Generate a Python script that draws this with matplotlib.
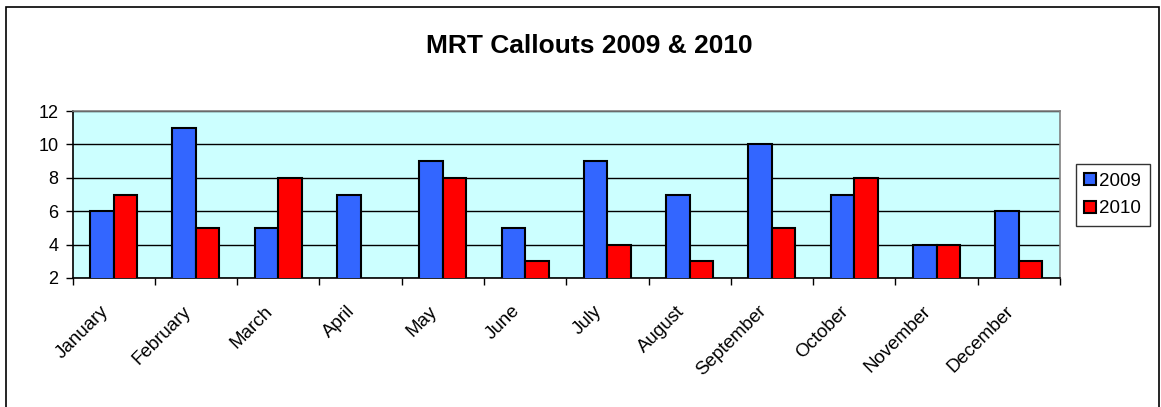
import matplotlib
matplotlib.use("Agg")
import matplotlib.pyplot as plt
import matplotlib.transforms as mtransforms
import numpy as np
from matplotlib.patches import Rectangle

months = ["January", "February", "March", "April", "May", "June", "July",
          "August", "September", "October", "November", "December"]
callouts_2009 = [6, 11, 5, 7, 9, 5, 9, 7, 10, 7, 4, 6]
callouts_2010 = [7, 5, 8, 0, 8, 3, 4, 3, 5, 8, 4, 3]
series_labels = ["2009", "2010"]
y_ticks = [2, 4, 6, 8, 10, 12]

plt.rcParams["font.family"] = ["Liberation Sans", "DejaVu Sans"]

W, H = 1161, 407
fig = plt.figure(figsize=(W / 100, H / 100), dpi=100)

# chart frame (open at the bottom)
fig.add_artist(Rectangle((6 / W, -0.1), (1159 - 6) / W, 1.1 - 7 / H,
                         transform=fig.transFigure, fill=False,
                         edgecolor="black", linewidth=1.2))

left, right, top, bottom = 72.5, 1060, 111, 278
ax = fig.add_axes([left / W, 1 - bottom / H, (right - left) / W, (bottom - top) / H])
ax.set_facecolor("#CCFFFF")

x = np.arange(len(months))
gap = 1.5
bw = 1 / (2 + gap)
ax.bar(x - bw / 2, callouts_2009, width=bw, color="#3366FF", edgecolor="black",
       linewidth=1.5, label=series_labels[0], zorder=3)
ax.bar(x + bw / 2, callouts_2010, width=bw, color="#FF0000", edgecolor="black",
       linewidth=1.5, label=series_labels[1], zorder=3)

ax.set_xlim(-0.5, len(months) - 0.5)
ax.set_ylim(2, 12)
ax.set_yticks(y_ticks)
ax.yaxis.grid(True, color="black", linewidth=1)
ax.set_axisbelow(True)
ax.tick_params(axis="y", labelsize=13, length=5, width=1, direction="out", pad=5)

ax.set_xticks(np.arange(len(months) + 1) - 0.5)
ax.set_xticklabels([])
ax.tick_params(axis="x", length=5, width=1, direction="out")
ax.set_xticks(x, minor=True)
ax.set_xticklabels(months, minor=True, rotation=45, ha="right", va="center",
                   rotation_mode="anchor", fontsize=13.5)
ax.tick_params(axis="x", which="minor", length=0, pad=22)
shift = mtransforms.ScaledTranslation(-8 / 100, 0, fig.dpi_scale_trans)
for lbl in ax.get_xticklabels(minor=True):
    lbl.set_transform(lbl.get_transform() + shift)

for side in ["top", "right"]:
    ax.spines[side].set_color("#808080")
for side in ["left", "bottom"]:
    ax.spines[side].set_color("black")
for s in ax.spines.values():
    s.set_linewidth(1.2)

fig.text(589 / W, 1 - 46 / H, "MRT Callouts 2009 & 2010", ha="center", va="center",
         fontsize=19, fontweight="bold")

leg = ax.legend(loc="center left", bbox_to_anchor=(1076 / W, 1 - 195 / H),
                bbox_transform=fig.transFigure, fontsize=13.5, frameon=True,
                fancybox=False, edgecolor="black", handlelength=0.6,
                handleheight=0.6, handletextpad=0.2, borderpad=0.45,
                labelspacing=0.55, borderaxespad=0)
leg.get_frame().set_linewidth(1)

fig.savefig("out.png", dpi=100)
